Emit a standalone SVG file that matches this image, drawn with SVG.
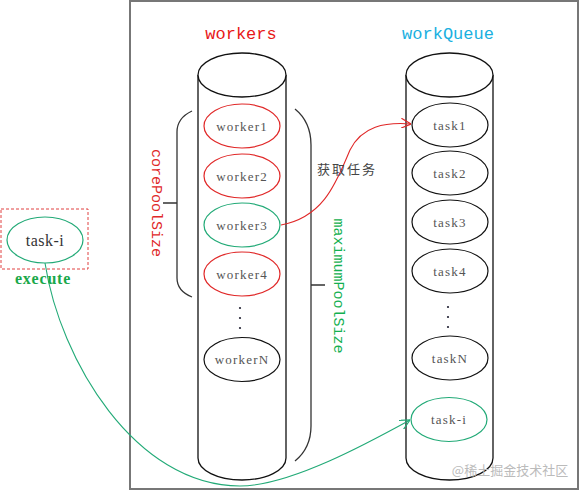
<svg xmlns="http://www.w3.org/2000/svg" width="580" height="493" viewBox="0 0 580 493">
<defs>
<style>
.cyl{fill:#fff;stroke:#111;stroke-width:1.3}
.el{fill:#fff;stroke-width:1.2}
.red{stroke:#e02828}
.grn{stroke:#22aa77}
.blk{stroke:#111}
.lbl{font-family:"Liberation Serif",serif;font-size:13px;fill:#555;text-anchor:middle;letter-spacing:1.2px}
.title{font-family:"Liberation Mono",monospace;font-size:17px;text-anchor:middle}
.vert{font-family:"Liberation Mono",monospace;font-size:15px;text-anchor:middle;dominant-baseline:central}
.brace{fill:none;stroke:#333;stroke-width:1.3}
.dot{fill:#223}
</style>
<marker id="arrRed" viewBox="0 0 10 10" refX="10" refY="5" markerWidth="10" markerHeight="10" markerUnits="userSpaceOnUse" orient="auto">
<path d="M0,0 L10,5 L0,10" fill="none" stroke="#e02828" stroke-width="1.2"/>
</marker>
<marker id="arrGrn" viewBox="0 0 10 10" refX="10" refY="5" markerWidth="10" markerHeight="10" markerUnits="userSpaceOnUse" orient="auto">
<path d="M0,0 L10,5 L0,10" fill="none" stroke="#22aa77" stroke-width="1.2"/>
</marker>
</defs>
<rect width="580" height="493" fill="#fff"/>
<rect id="frame" x="130" y="1" width="448" height="488" fill="none" stroke="#777" stroke-width="2"/>

<g id="workers">
<text class="title" x="241" y="39" fill="#e81818">workers</text>
<path class="cyl" d="M198,75 L198,458 A44,22 0 0 0 286,458 L286,75"/>
<ellipse class="cyl" cx="242" cy="75" rx="44" ry="22"/>
</g>
<g id="workQueue">
<text class="title" x="448" y="39" fill="#1ab0e0">workQueue</text>
<path class="cyl" d="M406,75 L406,458 A43.5,22 0 0 0 493,458 L493,75"/>
<ellipse class="cyl" cx="449.5" cy="75" rx="43.5" ry="22"/>
</g>

<g id="worker1"><ellipse class="el red" cx="242" cy="126" rx="38" ry="22"/><text class="lbl" x="242" y="131">worker1</text></g>
<g id="worker2"><ellipse class="el red" cx="242" cy="176" rx="38" ry="22"/><text class="lbl" x="242" y="181">worker2</text></g>
<g id="worker3"><ellipse class="el grn" cx="242" cy="225" rx="38" ry="22"/><text class="lbl" x="242" y="230">worker3</text></g>
<g id="worker4"><ellipse class="el red" cx="242" cy="274" rx="38" ry="22"/><text class="lbl" x="242" y="279">worker4</text></g>
<g id="workerDots"><circle class="dot" cx="240" cy="308" r="1.1"/><circle class="dot" cx="240" cy="318" r="1.1"/><circle class="dot" cx="240" cy="328" r="1.1"/></g>
<g id="workerN"><ellipse class="el blk" cx="242" cy="359.5" rx="38" ry="22"/><text class="lbl" x="242" y="364">workerN</text></g>

<g id="task1"><ellipse class="el blk" cx="450" cy="125" rx="38" ry="22"/><text class="lbl" x="450" y="130">task1</text></g>
<g id="task2"><ellipse class="el blk" cx="450" cy="173" rx="38" ry="22"/><text class="lbl" x="450" y="178">task2</text></g>
<g id="task3"><ellipse class="el blk" cx="450" cy="222" rx="38" ry="22"/><text class="lbl" x="450" y="227">task3</text></g>
<g id="task4"><ellipse class="el blk" cx="450" cy="271" rx="38" ry="22"/><text class="lbl" x="450" y="276">task4</text></g>
<g id="taskDots"><circle class="dot" cx="448" cy="307" r="1.1"/><circle class="dot" cx="448" cy="317" r="1.1"/><circle class="dot" cx="448" cy="327" r="1.1"/></g>
<g id="taskN"><ellipse class="el blk" cx="450" cy="358" rx="38" ry="22"/><text class="lbl" x="450" y="363">taskN</text></g>
<g id="taskI"><ellipse class="el grn" cx="449" cy="419.5" rx="38" ry="22"/><text class="lbl" x="449" y="424">task-i</text></g>

<g id="corePoolSize">
<path class="brace" d="M192,111 Q177,118 177,132 L177,278 Q177,291 192,297 M163,203 L177,203"/>
<text class="vert" transform="translate(155,203) rotate(90)" fill="#e02828">corePoolSize</text>
</g>
<g id="maximumPoolSize">
<path class="brace" d="M295,109 Q311,122 311,145 L311,426 Q311,448 295,461 M311,285 L325,285"/>
<text class="vert" transform="translate(337,286) rotate(90)" fill="#14b050">maximumPoolSize</text>
</g>

<g id="externalTask">
<rect x="1" y="209" width="87" height="60" fill="none" stroke="#e04040" stroke-width="1" stroke-dasharray="3,2"/>
<ellipse class="el grn" cx="45" cy="240" rx="38" ry="23"/>
<text x="45" y="246" font-family="Liberation Serif,serif" font-size="16" fill="#333" text-anchor="middle" letter-spacing="0.5">task-i</text>
</g>

<g id="connectors">
<path d="M281,225 C325,217 337,180 350,150 C362,126 385,122 411,124" fill="none" stroke="#e02828" stroke-width="1.1" marker-end="url(#arrRed)"/>
<text x="347" y="174" font-family="Noto Sans CJK SC,sans-serif" font-size="13" fill="#444" text-anchor="middle" letter-spacing="2">获取任务</text>
<path d="M45,263 C60,360 135,486 240,486 C290,486 370,442 410,420" fill="none" stroke="#22aa77" stroke-width="1.1" marker-end="url(#arrGrn)"/>
<text x="43" y="284" font-family="Liberation Serif,serif" font-size="16" font-weight="bold" fill="#1aa84a" text-anchor="middle" letter-spacing="0.8">execute</text>
</g>

<text x="510" y="475" font-family="Noto Sans CJK SC,sans-serif" font-size="13" fill="#bbb" text-anchor="middle">@稀土掘金技术社区</text>
</svg>
